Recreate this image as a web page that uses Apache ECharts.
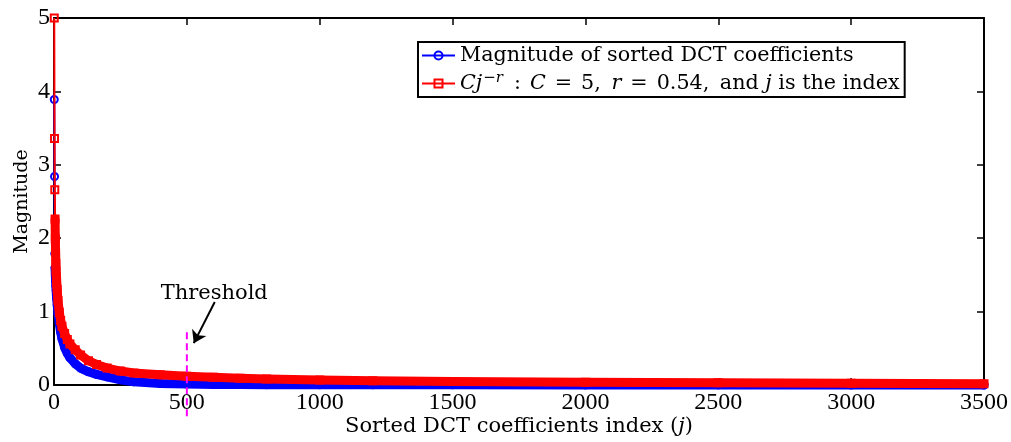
<!DOCTYPE html>
<html>
<head>
<meta charset="utf-8">
<script src="https://cdn.jsdelivr.net/npm/echarts@6/dist/echarts.min.js"></script>
<style>
  html, body { margin: 0; padding: 0; background: #fff; }
  #chart { width: 1011px; height: 442px; }
</style>
</head>
<body>
<div id="chart"></div>
<script>
// Index j of the sorted coefficients (sampled)
const coeffIndex = [1, 2, 3, 4, 5, 6, 7, 8, 9, 10, 12, 15, 20, 25, 30, 40, 50, 60, 80, 100,
  130, 160, 200, 250, 300, 400, 500, 600, 700, 800, 1000, 1200, 1500, 2000, 2500, 3000, 3500];

// Magnitude of the sorted DCT coefficients
const dctMagnitude = [3.89, 2.84, 1.79, 1.60, 1.50, 1.42, 1.35, 1.29, 1.23, 1.18, 1.09, 0.97, 0.83, 0.72, 0.63, 0.51, 0.43, 0.37, 0.29, 0.23,
  0.18, 0.145, 0.11, 0.07, 0.045, 0.02, 0.012, 0.008, 0.006, 0.005, 0.004, 0.003, 0.002, 0.0015, 0.001, 0.0005, 0.0003];

// Power-law envelope C j^-r
const powerLawFit = [5.00, 3.36, 2.66, 2.26, 1.99, 1.80, 1.66, 1.55, 1.47, 1.40, 1.30, 1.15, 0.99, 0.88, 0.80, 0.70, 0.62, 0.56, 0.48, 0.41,
  0.33, 0.28, 0.23, 0.19, 0.165, 0.14, 0.12, 0.105, 0.092, 0.082, 0.067, 0.058, 0.046, 0.036, 0.029, 0.023, 0.018];

const xTickLabels = [0, 500, 1000, 1500, 2000, 2500, 3000, 3500];
const yTickLabels = [0, 1, 2, 3, 4, 5];

// Threshold annotation (data coordinates)
const thresholdIndex = 500;
const thresholdSpan = [0.72, -0.45];
const arrowFrom = [605, 1.13];
const arrowTo = [526, 0.57];
const thresholdTextAt = [605, 1.24];

const NAME_DCT = 'Magnitude of sorted DCT coefficients';
const NAME_FIT = 'Cj^-r : C = 5, r = 0.54, and j is the index';

const BLUE = '#0000ff';
const RED = '#ff0000';
const DIGITS = 'Liberation Serif';
const WORDS = 'DejaVu Serif';
const BAND_FROM = 3; // dense part of the curves, where markers merge into a band

const toPoints = (xs, ys) => xs.map((x, i) => [x, ys[i]]);
const dctPoints = toPoints(coeffIndex, dctMagnitude);
const fitPoints = toPoints(coeffIndex, powerLawFit);

const xStep = xTickLabels[1] - xTickLabels[0];
const yStep = yTickLabels[1] - yTickLabels[0];

const axisLineStyle = { show: true, onZero: false, lineStyle: { color: '#000', width: 2 } };
const tickStyle = { show: true, inside: true, length: 7, lineStyle: { color: '#000', width: 1.5 } };
const plainNumber = v => String(v);

const LEGEND_SIZE = 20.7;
const txt = (extra) => Object.assign({ fontFamily: WORDS, fontSize: 21, color: '#000' }, extra || {});
const ltxt = (extra) => txt(Object.assign({ fontSize: LEGEND_SIZE }, extra || {}));

const chart = echarts.init(document.getElementById('chart'), null, { renderer: 'canvas' });

chart.setOption({
  animation: false,
  backgroundColor: '#fff',
  grid: { left: 54, right: 26, top: 18, bottom: 57, containLabel: false },
  legend: {
    data: [NAME_DCT, NAME_FIT],
    orient: 'vertical',
    left: 418,
    top: 42,
    padding: [3, 5, 3, 3],
    itemGap: 5,
    itemWidth: 33,
    itemHeight: 10,
    selectedMode: false,
    backgroundColor: '#fff',
    borderColor: '#000',
    borderWidth: 2,
    borderRadius: 0,
    textStyle: {
      fontFamily: WORDS,
      fontSize: LEGEND_SIZE,
      color: '#000',
      rich: {
        t: ltxt(),
        op: ltxt({ padding: [0, 9, 0, 9] }),
        sp: ltxt({ padding: [0, 4, 0, 0] }),
        i: ltxt({ fontStyle: 'italic' }),
        sup: ltxt({ fontSize: 15, fontStyle: 'italic', verticalAlign: 'top', padding: [0, 2, 10, 1] })
      }
    },
    formatter: name => name === NAME_FIT
      ? '{i|Cj}{sup|−r}{op|:}{i|C}{op|=}{t|5,}{sp| }{i|r}{op|=}{t|0.54,}{sp| }{t|and }{i|j}{t| is the index}'
      : name
  },
  xAxis: [
    {
      type: 'value',
      position: 'bottom',
      min: xTickLabels[0],
      max: xTickLabels[xTickLabels.length - 1],
      interval: xStep,
      axisLine: axisLineStyle,
      axisTick: tickStyle,
      splitLine: { show: false },
      axisLabel: { color: '#000', fontFamily: DIGITS, fontSize: 24, margin: 6, showMinLabel: true, showMaxLabel: true, formatter: plainNumber },
      name: 'Sorted DCT coefficients index ({j|j})',
      nameLocation: 'middle',
      nameGap: 31,
      nameMoveOverlap: false,
      nameTextStyle: txt({ rich: { j: txt({ fontStyle: 'italic' }) } })
    },
    {
      type: 'value',
      position: 'top',
      min: xTickLabels[0],
      max: xTickLabels[xTickLabels.length - 1],
      interval: xStep,
      axisLine: axisLineStyle,
      axisTick: tickStyle,
      axisLabel: { show: false },
      splitLine: { show: false }
    }
  ],
  yAxis: [
    {
      type: 'value',
      position: 'left',
      min: yTickLabels[0],
      max: yTickLabels[yTickLabels.length - 1],
      interval: yStep,
      axisLine: axisLineStyle,
      axisTick: tickStyle,
      splitLine: { show: false },
      axisLabel: { color: '#000', fontFamily: DIGITS, fontSize: 24, margin: 4, formatter: plainNumber },
      name: 'Magnitude',
      nameLocation: 'middle',
      nameGap: 22,
      nameMoveOverlap: false,
      nameTextStyle: txt({ fontSize: 19 })
    },
    {
      type: 'value',
      position: 'right',
      min: yTickLabels[0],
      max: yTickLabels[yTickLabels.length - 1],
      interval: yStep,
      axisLine: axisLineStyle,
      axisTick: tickStyle,
      axisLabel: { show: false },
      splitLine: { show: false }
    }
  ],
  series: [
    {
      // merged circle markers of the sorted coefficients
      type: 'line',
      data: dctPoints.slice(BAND_FROM),
      symbol: 'none',
      lineStyle: { color: BLUE, width: 9, cap: 'round', join: 'round' },
      silent: true,
      clip: false,
      z: 2
    },
    {
      name: NAME_DCT,
      type: 'line',
      data: dctPoints,
      symbol: 'circle',
      symbolSize: 7,
      showAllSymbol: true,
      itemStyle: { color: 'rgba(255,255,255,0)', borderColor: BLUE, borderWidth: 2 },
      lineStyle: { color: BLUE, width: 2 },
      clip: false,
      z: 3
    },
    {
      // merged square markers of the power-law envelope
      type: 'line',
      data: fitPoints.slice(BAND_FROM),
      symbol: 'none',
      lineStyle: { color: RED, width: 9, cap: 'round', join: 'round' },
      silent: true,
      clip: false,
      z: 4
    },
    {
      name: NAME_FIT,
      type: 'line',
      data: fitPoints,
      symbol: 'rect',
      symbolSize: 7,
      showAllSymbol: true,
      itemStyle: { color: 'rgba(255,255,255,0)', borderColor: RED, borderWidth: 2 },
      lineStyle: { color: RED, width: 2 },
      clip: false,
      z: 5
    },
    {
      // dashed threshold marker with its pointer arrow
      type: 'line',
      data: thresholdSpan.map(v => [thresholdIndex, v]),
      symbol: 'none',
      clip: false,
      silent: true,
      lineStyle: { color: '#ff00ff', width: 2, type: [7, 4] },
      z: 6,
      markLine: {
        silent: true,
        symbol: ['none', 'arrow'],
        symbolSize: 12,
        label: { show: false },
        lineStyle: { color: '#000', width: 2, type: 'solid' },
        data: [[{ coord: arrowFrom }, { coord: arrowTo }]]
      }
    },
    {
      type: 'scatter',
      data: [thresholdTextAt],
      symbolSize: 1,
      itemStyle: { color: 'rgba(0,0,0,0)', opacity: 1 },
      silent: true,
      z: 6,
      label: {
        show: true,
        position: [0, 0],
        align: 'center',
        verticalAlign: 'middle',
        formatter: 'Threshold',
        fontFamily: WORDS,
        fontSize: 21,
        color: '#000',
        opacity: 1,
        textBorderWidth: 0
      }
    }
  ]
});
</script>
</body>
</html>
